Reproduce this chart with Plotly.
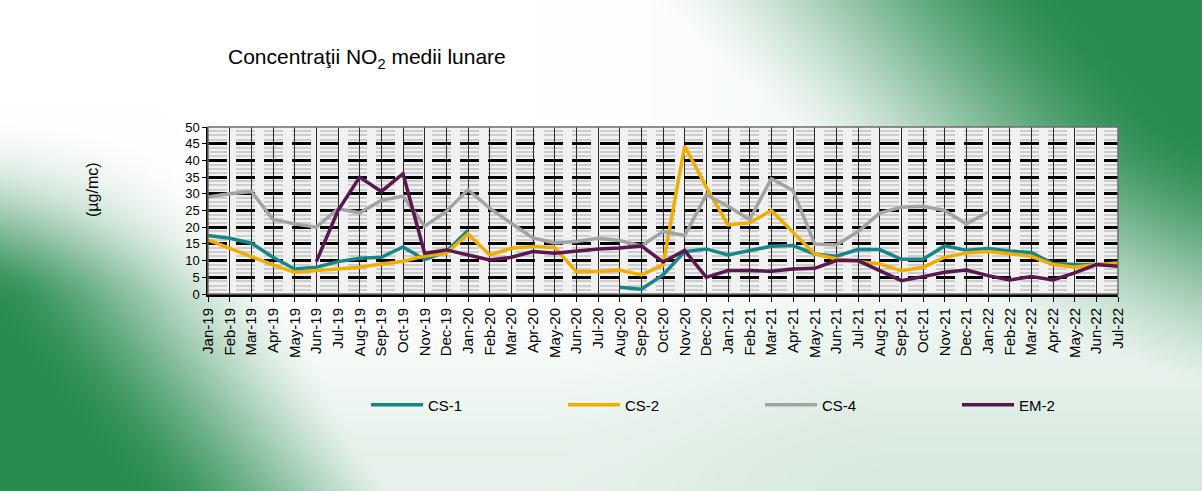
import base64
import struct
import zlib

import numpy as np
import plotly.graph_objects as go

# ---------------- data ----------------
months = [
    "Jan-19", "Feb-19", "Mar-19", "Apr-19", "May-19", "Jun-19", "Jul-19", "Aug-19", "Sep-19", "Oct-19",
    "Nov-19", "Dec-19", "Jan-20", "Feb-20", "Mar-20", "Apr-20", "May-20", "Jun-20", "Jul-20", "Aug-20",
    "Sep-20", "Oct-20", "Nov-20", "Dec-20", "Jan-21", "Feb-21", "Mar-21", "Apr-21", "May-21", "Jun-21",
    "Jul-21", "Aug-21", "Sep-21", "Oct-21", "Nov-21", "Dec-21", "Jan-22", "Feb-22", "Mar-22", "Apr-22",
    "May-22", "Jun-22", "Jul-22",
]

cs1 = [17.5, 16.7, 15.2, 11.0, 7.5, 8.0, 9.7, 10.7, 11.0, 14.1,
       10.3, 12.7, 19.0, None, None, None, None, None, None, 2.0,
       1.4, 5.7, 12.7, 13.5, 11.7, 13.0, 14.3, 14.5, 12.0, 11.3,
       13.3, 13.3, 10.4, 10.4, 14.4, 13.1, 13.6, 12.9, 12.4, 9.1,
       8.8, 8.8, 8.8]

cs2 = [16.2, 13.7, 11.0, 8.7, 6.5, 7.0, 7.5, 8.0, 9.0, 9.8,
       11.4, 12.2, 18.0, 11.7, 13.7, 14.2, 13.9, 6.7, 6.7, 7.2,
       5.7, 8.7, 44.3, 32.0, 20.7, 21.3, 25.0, 18.5, 12.0, 10.5,
       9.8, 9.0, 7.0, 8.0, 11.0, 12.3, 12.7, 12.0, 11.3, 8.8,
       8.0, 8.8, 9.3]

cs4 = [29.0, 30.0, 30.7, 22.3, 21.0, 20.0, 25.5, 24.3, 28.0, 29.3,
       20.3, 24.7, 31.2, 25.7, 21.2, 16.8, 15.3, 15.7, 16.7, 16.0,
       14.4, 18.7, 17.5, 29.7, 26.3, 22.3, 34.5, 31.0, 15.0, 14.7,
       18.7, 24.2, 26.0, 26.3, 25.0, 21.0, 24.5, None, None, None,
       None, None, None]

em2 = [None, None, None, None, None, 9.7, 25.0, 35.0, 30.7, 36.0,
       12.2, 13.2, 11.7, 10.2, 11.0, 12.7, 12.2, 12.9, 13.5, 13.8,
       14.4, 9.6, 13.0, 5.0, 7.0, 7.0, 6.8, 7.5, 7.7, 10.0,
       10.0, 7.0, 4.0, 5.2, 6.5, 7.2, 5.5, 4.2, 5.2, 4.2,
       6.3, 8.8, 8.3]

series_names = ["CS-1", "CS-2", "CS-4", "EM-2"]
series_values = [cs1, cs2, cs4, em2]
series_colors = ["#17868a", "#f2ae00", "#a3a3a3", "#5a1750"]

y_ticks = [0, 5, 10, 15, 20, 25, 30, 35, 40, 45, 50]

# ---------------- background image (decorative gradient) ----------------
W, H = 1202, 491


def make_png(arr):
    h, w, _ = arr.shape
    raw = b"".join(b"\x00" + arr[r].tobytes() for r in range(h))

    def chunk(t, d):
        return struct.pack(">I", len(d)) + t + d + struct.pack(">I", zlib.crc32(t + d) & 0xFFFFFFFF)

    png = b"\x89PNG\r\n\x1a\n"
    png += chunk(b"IHDR", struct.pack(">IIBBBBB", w, h, 8, 2, 0, 0, 0))
    png += chunk(b"IDAT", zlib.compress(raw, 9))
    png += chunk(b"IEND", b"")
    return "data:image/png;base64," + base64.b64encode(png).decode()


def smooth(v):
    v = np.clip(v, 0, 1)
    return v * v * (3 - 2 * v)


bw, bh = 301, 123
X, Y = np.meshgrid(np.linspace(0, 1, bw), np.linspace(0, 1, bh))
w_bl = smooth((0.32 * Y + 0.06 - X) / 0.28) * smooth((Y - 0.22) / 0.4)
w_tr = smooth((X - 0.52 - 0.36 * Y) / 0.38) * smooth((1.0 - Y) / 0.75)
w_base = 0.12 * smooth((Y - 0.55) / 0.45) + 0.06 * smooth((X - 0.45) / 0.3)
w = np.clip(np.maximum(np.maximum(w_bl, w_tr), w_base), 0, 1)
green = np.array([40, 140, 80], dtype=float)
white = np.array([255, 255, 255], dtype=float)
img = (white[None, None, :] * (1 - w[..., None]) + green[None, None, :] * w[..., None]).astype(np.uint8)
bg_uri = make_png(img)

# ---------------- figure ----------------
L, R, T, B = 208, 84, 127, 197
PW, PH = W - L - R, H - T - B
FONT = "Liberation Sans, Arial, sans-serif"

fig = go.Figure()
for name, vals, col in zip(series_names, series_values, series_colors):
    fig.add_trace(go.Scatter(
        x=months, y=vals, name=name, mode="lines",
        line=dict(color=col, width=3.5),
        connectgaps=False,
    ))

fig.update_layout(
    width=W, height=H,
    margin=dict(l=L, r=R, t=T, b=B, pad=0),
    paper_bgcolor="white",
    plot_bgcolor="rgba(0,0,0,0)",
    font=dict(family=FONT, color="black"),
    title=dict(
        text="Concentraţii NO<sub>2</sub> medii lunare",
        font=dict(size=21, family=FONT, color="black"),
        x=228 / W, xanchor="left", xref="container",
        y=1 - 57 / H, yanchor="middle", yref="container",
    ),
    showlegend=True,
    legend=dict(
        orientation="h",
        xref="container", yref="container",
        x=366 / W, xanchor="left",
        y=1 - 405 / H, yanchor="middle",
        entrywidth=130, entrywidthmode="pixels",
        itemwidth=52,
        font=dict(size=15, family=FONT, color="black"),
        bgcolor="rgba(0,0,0,0)",
        traceorder="normal",
    ),
    images=[dict(
        source=bg_uri, xref="paper", yref="paper",
        x=-L / PW, y=1 + T / PH, sizex=W / PW, sizey=H / PH,
        xanchor="left", yanchor="top", sizing="stretch", layer="below",
    )],
    shapes=[
        dict(type="rect", xref="paper", yref="paper", x0=0, x1=1, y0=0, y1=1,
             fillcolor="#f1f1f1", line=dict(width=0), layer="below"),
        dict(type="rect", xref="paper", yref="paper", x0=0, x1=1, y0=0, y1=1,
             fillcolor="rgba(0,0,0,0)", line=dict(color="#6e6e6e", width=1.5), layer="above"),
    ],
    annotations=[dict(
        text="(µg/mc)", xref="paper", yref="paper",
        x=(92 - L) / PW, y=1 - (190 - T) / PH, xanchor="center", yanchor="middle",
        textangle=-90, showarrow=False, font=dict(size=16, family=FONT, color="black"),
    )],
)

fig.update_xaxes(
    type="category",
    categoryorder="array", categoryarray=months,
    range=[0, len(months) - 1],
    tickmode="array", tickvals=months, ticktext=months,
    tickangle=-90,
    tickfont=dict(size=15, family=FONT, color="black"),
    ticks="outside", ticklen=5, tickcolor="black", tickwidth=1,
    showgrid=True, gridcolor="#2a2a2a", gridwidth=1,
    showline=True, linecolor="black", linewidth=3,
    zeroline=False,
)

fig.update_yaxes(
    range=[0, 50],
    tickmode="array", tickvals=y_ticks, ticktext=[str(v) for v in y_ticks],
    tickfont=dict(size=13, family=FONT, color="black"),
    ticks="outside", ticklen=4, tickcolor="black",
    showgrid=True, gridcolor="black", gridwidth=2.5, griddash="19px,9px",
    minor=dict(dtick=1.25, tick0=0, showgrid=True, gridcolor="#cdcdcd", gridwidth=2),
    showline=True, linecolor="black", linewidth=1.5,
    zeroline=False,
)

fig.write_html(
    "out.html",
    config={"displayModeBar": False},
    post_script="document.body.style.margin='0';",
)
